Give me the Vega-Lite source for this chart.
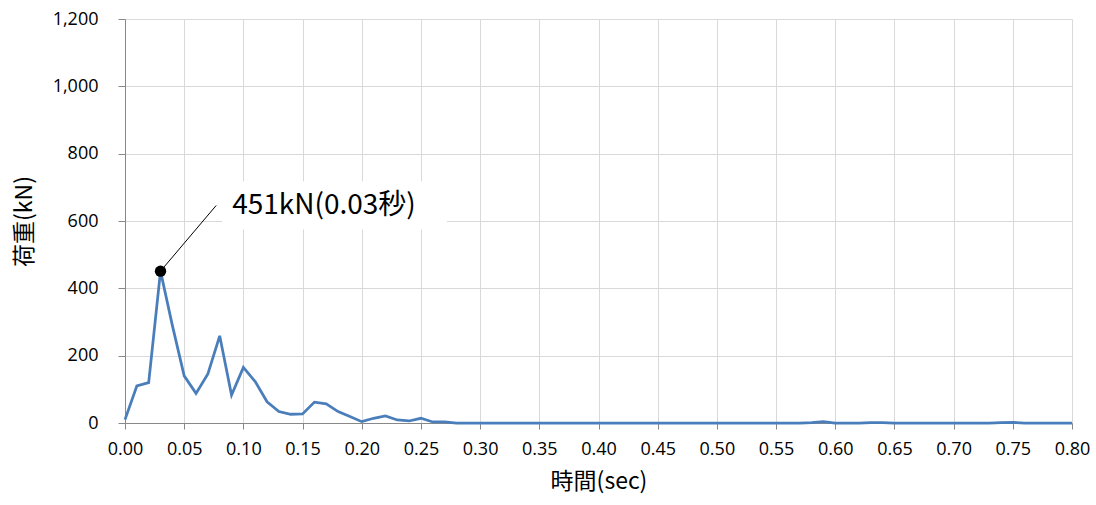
{
  "$schema": "https://vega.github.io/schema/vega-lite/v6.json",
  "autosize": "none",
  "width": 947,
  "height": 404,
  "padding": {"left": 125, "top": 19, "right": 24, "bottom": 82},
  "background": "white",
  "config": {
    "view": {"stroke": null},
    "axis": {
      "labelFont": "Open Sans",
      "titleFont": "Noto Sans CJK JP",
      "labelFontSize": 18,
      "titleFontSize": 23,
      "labelColor": "#000000",
      "titleColor": "#000000",
      "titleFontWeight": "normal",
      "domainColor": "#888888",
      "tickColor": "#888888",
      "gridColor": "#d9d9d9",
      "gridWidth": 1,
      "labelFlush": false
    }
  },
  "datasets": {
    "series": [
      {"t": 0.00, "load": 10}, {"t": 0.01, "load": 110}, {"t": 0.02, "load": 120}, {"t": 0.03, "load": 451},
      {"t": 0.04, "load": 290}, {"t": 0.05, "load": 140}, {"t": 0.06, "load": 88}, {"t": 0.07, "load": 146},
      {"t": 0.08, "load": 259}, {"t": 0.09, "load": 83}, {"t": 0.10, "load": 165}, {"t": 0.11, "load": 123},
      {"t": 0.12, "load": 63}, {"t": 0.13, "load": 34}, {"t": 0.14, "load": 26}, {"t": 0.15, "load": 27},
      {"t": 0.16, "load": 62}, {"t": 0.17, "load": 57}, {"t": 0.18, "load": 34}, {"t": 0.19, "load": 19},
      {"t": 0.20, "load": 4}, {"t": 0.21, "load": 14}, {"t": 0.22, "load": 21}, {"t": 0.23, "load": 9},
      {"t": 0.24, "load": 6}, {"t": 0.25, "load": 14}, {"t": 0.26, "load": 3}, {"t": 0.27, "load": 3},
      {"t": 0.28, "load": 0}, {"t": 0.29, "load": 0}, {"t": 0.30, "load": 0}, {"t": 0.31, "load": 0},
      {"t": 0.32, "load": 0}, {"t": 0.33, "load": 0}, {"t": 0.34, "load": 0}, {"t": 0.35, "load": 0},
      {"t": 0.36, "load": 0}, {"t": 0.37, "load": 0}, {"t": 0.38, "load": 0}, {"t": 0.39, "load": 0},
      {"t": 0.40, "load": 0}, {"t": 0.41, "load": 0}, {"t": 0.42, "load": 0}, {"t": 0.43, "load": 0},
      {"t": 0.44, "load": 0}, {"t": 0.45, "load": 0}, {"t": 0.46, "load": 0}, {"t": 0.47, "load": 0},
      {"t": 0.48, "load": 0}, {"t": 0.49, "load": 0}, {"t": 0.50, "load": 0}, {"t": 0.51, "load": 0},
      {"t": 0.52, "load": 0}, {"t": 0.53, "load": 0}, {"t": 0.54, "load": 0}, {"t": 0.55, "load": 0},
      {"t": 0.56, "load": 0}, {"t": 0.57, "load": 0}, {"t": 0.58, "load": 1}, {"t": 0.59, "load": 4},
      {"t": 0.60, "load": 0}, {"t": 0.61, "load": 0}, {"t": 0.62, "load": 0}, {"t": 0.63, "load": 1},
      {"t": 0.64, "load": 1}, {"t": 0.65, "load": 0}, {"t": 0.66, "load": 0}, {"t": 0.67, "load": 0},
      {"t": 0.68, "load": 0}, {"t": 0.69, "load": 0}, {"t": 0.70, "load": 0}, {"t": 0.71, "load": 0},
      {"t": 0.72, "load": 0}, {"t": 0.73, "load": 0}, {"t": 0.74, "load": 1}, {"t": 0.75, "load": 2},
      {"t": 0.76, "load": 0}, {"t": 0.77, "load": 0}, {"t": 0.78, "load": 0}, {"t": 0.79, "load": 0},
      {"t": 0.80, "load": 0}
    ],
    "box": [{"x1": 0.082, "x2": 0.272, "y1": 575, "y2": 718}],
    "leader": [{"x1": 0.03, "y1": 451, "x2": 0.077, "y2": 646}],
    "peak": [{"t": 0.03, "load": 451}],
    "labelpos": [{"t": 0.0905, "load": 646, "label": "451kN(0.03秒)"}]
  },
  "layer": [
    {
      "data": {"name": "box"},
      "mark": {"type": "rect", "fill": "white", "stroke": null},
      "encoding": {
        "x": {"field": "x1", "type": "quantitative", "scale": {"domain": [0, 0.8], "nice": false},
              "axis": {"values": [0, 0.05, 0.1, 0.15, 0.2, 0.25, 0.3, 0.35, 0.4, 0.45, 0.5, 0.55, 0.6, 0.65, 0.7, 0.75, 0.8],
                       "format": ".2f", "title": "時間(sec)", "tickSize": 6, "labelPadding": 11, "titlePadding": 12,
                       "labelFont": "Open Sans", "labelFontSize": 18}},
        "x2": {"field": "x2"},
        "y": {"field": "y1", "type": "quantitative", "scale": {"domain": [0, 1200], "nice": false},
              "axis": {"values": [0, 200, 400, 600, 800, 1000, 1200], "format": ",d", "title": "荷重(kN)",
                       "tickSize": 7, "labelPadding": 20, "titlePadding": 16,
                       "labelFont": "Open Sans", "labelFontSize": 18}},
        "y2": {"field": "y2"}
      }
    },
    {
      "data": {"name": "series"},
      "mark": {"type": "line", "color": "#4a7ebb", "strokeWidth": 2.75},
      "encoding": {
        "x": {"field": "t", "type": "quantitative"},
        "y": {"field": "load", "type": "quantitative"}
      }
    },
    {
      "data": {"name": "leader"},
      "mark": {"type": "rule", "color": "#000000", "strokeWidth": 1},
      "encoding": {
        "x": {"field": "x1", "type": "quantitative"},
        "y": {"field": "y1", "type": "quantitative"},
        "x2": {"field": "x2"},
        "y2": {"field": "y2"}
      }
    },
    {
      "data": {"name": "peak"},
      "mark": {"type": "point", "filled": true, "color": "#000000", "size": 130, "opacity": 1},
      "encoding": {
        "x": {"field": "t", "type": "quantitative"},
        "y": {"field": "load", "type": "quantitative"}
      }
    },
    {
      "data": {"name": "labelpos"},
      "mark": {"type": "text", "align": "left", "baseline": "middle", "font": "Noto Sans CJK JP", "fontSize": 28, "color": "#000000"},
      "encoding": {
        "x": {"field": "t", "type": "quantitative"},
        "y": {"field": "load", "type": "quantitative"},
        "text": {"field": "label"}
      }
    }
  ]
}
